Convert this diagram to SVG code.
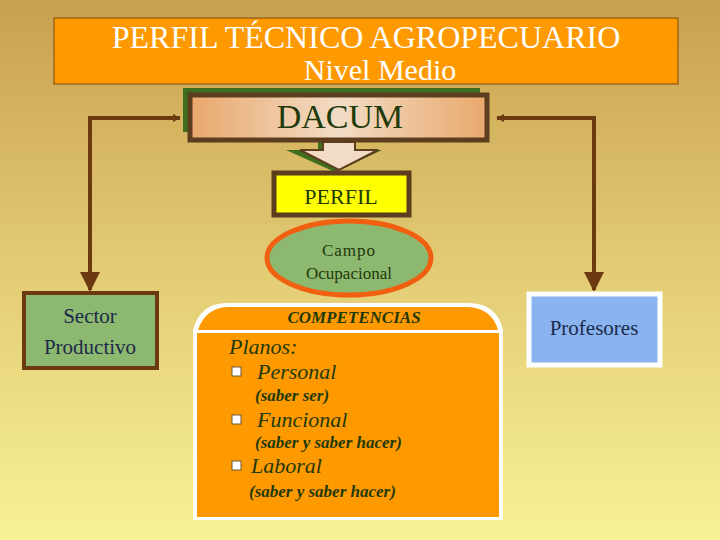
<svg xmlns="http://www.w3.org/2000/svg" width="720" height="540" viewBox="0 0 720 540" font-family="'Liberation Serif', 'DejaVu Serif', 'Times New Roman', serif">
<defs>
<linearGradient id="bg" x1="0" y1="0" x2="0" y2="1"><stop offset="0" stop-color="#c9a04e"/><stop offset="0.5" stop-color="#e3cb74"/><stop offset="1" stop-color="#f6f294"/></linearGradient>
<linearGradient id="tan" x1="0" y1="0" x2="1" y2="0"><stop offset="0" stop-color="#e9a86c"/><stop offset="0.5" stop-color="#f2dcc6"/><stop offset="1" stop-color="#e9a86c"/></linearGradient>
<marker id="ah" viewBox="0 0 10 10" refX="9" refY="5" markerWidth="8" markerHeight="8" markerUnits="userSpaceOnUse" orient="auto-start-reverse"><path d="M0,0L10,5L0,10z" fill="#6b3a10"/></marker>
<marker id="big" viewBox="0 0 10 10" refX="9" refY="5" markerWidth="20" markerHeight="22" markerUnits="userSpaceOnUse" orient="auto"><path d="M0,0L10,5L0,10z" fill="#6b3a10"/></marker>
</defs>
<style>
.g{fill:#1f3a0a}
.c{stroke:#6b3a10;stroke-width:4;fill:none;marker-end:url(#big);marker-start:url(#ah)}
</style>
<rect width="720" height="540" fill="url(#bg)"/>
<g id="title">
<rect x="54" y="18" width="624" height="66" fill="#ff9900" stroke="#7a4a10" stroke-width="1"/>
<text x="366" y="48" font-size="32" fill="#fff" text-anchor="middle">PERFIL TÉCNICO AGROPECUARIO</text>
<text x="380" y="80" font-size="30" fill="#fff" text-anchor="middle">Nivel Medio</text>
</g>
<g id="dacum">
<path d="M286,150 H318 V140 H348 V150 H382 L335,172 Z" fill="#3f6e1e"/>
<rect x="183" y="88" width="297" height="44" fill="#3f6e1e"/>
<rect x="190" y="95" width="297" height="45" fill="url(#tan)" stroke="#5c3d1e" stroke-width="5"/>
<path d="M323,142 H355 V150 H378 L339,170 L300,150 H323 Z" fill="#f2dcc6" stroke="#5c3d1e" stroke-width="2"/>
<text class="g" x="340" y="128" font-size="34" text-anchor="middle">DACUM</text>
</g>
<g id="connectors">
<path class="c" d="M180,118 H90 V290"/>
<path class="c" d="M497,118 H594 V290"/>
</g>
<g id="perfil">
<rect x="274" y="173" width="135" height="42" fill="#ffff00" stroke="#5c3d1e" stroke-width="5"/>
<text x="341" y="204" font-size="22" fill="#1f3a0a" text-anchor="middle">PERFIL</text>
</g>
<g id="campo">
<ellipse cx="349" cy="258" rx="82" ry="37" fill="#8db870" stroke="#f06010" stroke-width="5"/>
<text class="g" x="349" y="256" font-size="17" text-anchor="middle" letter-spacing="1">Campo</text>
<text class="g" x="349" y="279" font-size="17" text-anchor="middle">Ocupacional</text>
</g>
<g id="sector">
<rect x="24" y="293" width="133" height="75" fill="#8db870" stroke="#6b3a10" stroke-width="4"/>
<text x="90" y="323" font-size="21" fill="#1c2a4a" text-anchor="middle">Sector</text>
<text x="90" y="354" font-size="21" fill="#1c2a4a" text-anchor="middle">Productivo</text>
</g>
<g id="profesores">
<rect x="529" y="294" width="131" height="71" fill="#8ab4f0" stroke="#ffffff" stroke-width="5"/>
<text x="594" y="335" font-size="21" fill="#1c2a4a" text-anchor="middle">Profesores</text>
</g>
<g id="competencias">
<path d="M193,520 V330 Q200,304 225,303 H470 Q497,304 503,330 V520 Z" fill="#fff"/>
<path d="M198,330 Q205,308 228,307 H467 Q492,308 498,330 Z" fill="#ff9900"/>
<rect x="197" y="333" width="302" height="184" fill="#ff9900"/>
<g class="g" font-style="italic" font-weight="bold">
<text x="354" y="323" font-size="17" text-anchor="middle">COMPETENCIAS</text>
<text x="229" y="354" font-size="22" font-weight="normal">Planos:</text>
<text x="257" y="379" font-size="22" font-weight="normal">Personal</text>
<text x="255" y="401" font-size="17">(saber ser)</text>
<text x="257" y="427" font-size="22" font-weight="normal">Funcional</text>
<text x="255" y="448" font-size="17">(saber y saber hacer)</text>
<text x="251" y="473" font-size="22" font-weight="normal">Laboral</text>
<text x="249" y="497" font-size="17">(saber y saber hacer)</text>
</g>
<g fill="#fff" stroke="#6b5a30" stroke-width="1">
<rect x="232" y="367" width="9" height="9"/>
<rect x="232" y="415" width="9" height="9"/>
<rect x="232" y="461" width="9" height="9"/>
</g>
</g>
</svg>
